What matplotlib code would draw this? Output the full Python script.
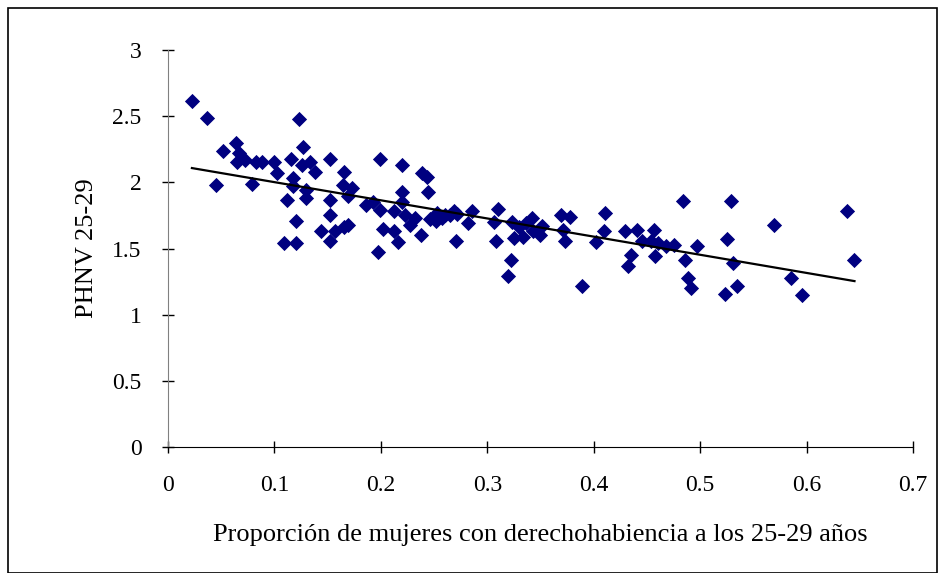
import numpy as np
import matplotlib
matplotlib.use("Agg")
import matplotlib.pyplot as plt
from matplotlib.patches import Rectangle

# -------------------------------
# DATA
# -------------------------------
prop_mujeres = [
    0.0225, 0.037, 0.045, 0.052, 0.064, 0.067, 0.065, 0.072, 0.079, 0.083,
    0.088, 0.100, 0.102, 0.112, 0.109, 0.116, 0.117, 0.117, 0.120, 0.120,
    0.123, 0.127, 0.126, 0.130, 0.130, 0.133, 0.138, 0.144, 0.152, 0.152,
    0.152, 0.152, 0.157, 0.165, 0.164, 0.169, 0.169, 0.165, 0.173, 0.186,
    0.193, 0.197, 0.199, 0.199, 0.202, 0.212, 0.212, 0.216, 0.220, 0.220,
    0.220, 0.223, 0.227, 0.232, 0.238, 0.239, 0.243, 0.244, 0.246, 0.252,
    0.253, 0.257, 0.260, 0.265, 0.269, 0.272, 0.271, 0.282, 0.286, 0.306,
    0.308, 0.310, 0.319, 0.322, 0.323, 0.325, 0.330, 0.334, 0.336, 0.342,
    0.343, 0.350, 0.351, 0.369, 0.371, 0.373, 0.378, 0.389, 0.402, 0.410,
    0.411, 0.429, 0.432, 0.435, 0.441, 0.445, 0.454, 0.457, 0.458, 0.460,
    0.468, 0.475, 0.484, 0.486, 0.489, 0.491, 0.497, 0.523, 0.525, 0.529,
    0.531, 0.535, 0.569, 0.585, 0.596, 0.638, 0.645,
]
phnv = [
    2.615, 2.49, 1.98, 2.24, 2.30, 2.22, 2.15, 2.17, 1.99, 2.15,
    2.15, 2.15, 2.07, 1.87, 1.54, 2.18, 2.03, 1.97, 1.71, 1.54,
    2.48, 2.27, 2.13, 1.94, 1.88, 2.15, 2.08, 1.63, 2.18, 1.87,
    1.75, 1.56, 1.63, 2.08, 1.98, 1.90, 1.68, 1.66, 1.96, 1.83,
    1.85, 1.47, 2.18, 1.79, 1.65, 1.78, 1.63, 1.55, 2.13, 1.93,
    1.85, 1.75, 1.68, 1.73, 1.60, 2.07, 2.04, 1.93, 1.72, 1.71,
    1.77, 1.73, 1.75, 1.75, 1.78, 1.76, 1.56, 1.69, 1.78, 1.70,
    1.56, 1.80, 1.29, 1.41, 1.70, 1.58, 1.66, 1.59, 1.69, 1.73,
    1.63, 1.60, 1.67, 1.75, 1.64, 1.56, 1.74, 1.22, 1.55, 1.63,
    1.77, 1.63, 1.37, 1.45, 1.64, 1.56, 1.56, 1.64, 1.44, 1.54,
    1.52, 1.53, 1.86, 1.41, 1.28, 1.20, 1.52, 1.16, 1.57, 1.86,
    1.39, 1.22, 1.68, 1.28, 1.15, 1.78, 1.41,
]
x_ticks = [0, 0.1, 0.2, 0.3, 0.4, 0.5, 0.6, 0.7]
x_tick_labels = ["0", "0.1", "0.2", "0.3", "0.4", "0.5", "0.6", "0.7"]
y_ticks = [0, 0.5, 1, 1.5, 2, 2.5, 3]
y_tick_labels = ["0", "0.5", "1", "1.5", "2", "2.5", "3"]

x = np.array(prop_mujeres)
y = np.array(phnv)

# -------------------------------
# FIGURE
# -------------------------------
plt.rcParams["font.family"] = ["Liberation Serif", "DejaVu Serif"]

fig = plt.figure(figsize=(9.4, 5.73), dpi=100)
ax = fig.add_axes([0.1787, 0.2199, 0.7926, 0.6928])

ax.scatter(x, y, marker="D", s=60, color="#000080", linewidths=0, zorder=3)

# linear trend line (least squares, like the spreadsheet trendline)
slope, intercept = np.polyfit(x, y, 1)
xl = np.array([x.min(), x.max()])
ax.plot(xl, slope * xl + intercept, color="black", lw=1.6, zorder=4)

ax.set_xlim(0, 0.7)
ax.set_ylim(0, 3)
ax.set_xticks(x_ticks)
ax.set_xticklabels(x_tick_labels)
ax.set_yticks(y_ticks)
ax.set_yticklabels(y_tick_labels)

ax.spines["top"].set_visible(False)
ax.spines["right"].set_visible(False)
ax.spines["left"].set_color("#808080")
ax.spines["bottom"].set_color("black")
ax.tick_params(axis="both", direction="inout", length=8, width=1,
               labelsize=17, colors="black")
ax.tick_params(axis="x", pad=16)
ax.tick_params(axis="y", pad=15)

ax.set_xlabel("Proporción de mujeres con derechohabiencia a los 25-29 años",
              fontsize=19, labelpad=20)
ax.set_ylabel("PHNV 25-29", fontsize=19, labelpad=10)

# outer chart frame
fig.patches.append(Rectangle((8 / 940, 0.0), 929 / 940, 565 / 573,
                             transform=fig.transFigure, fill=False,
                             edgecolor="black", lw=1.2))

plt.savefig("out.png", dpi=100)
